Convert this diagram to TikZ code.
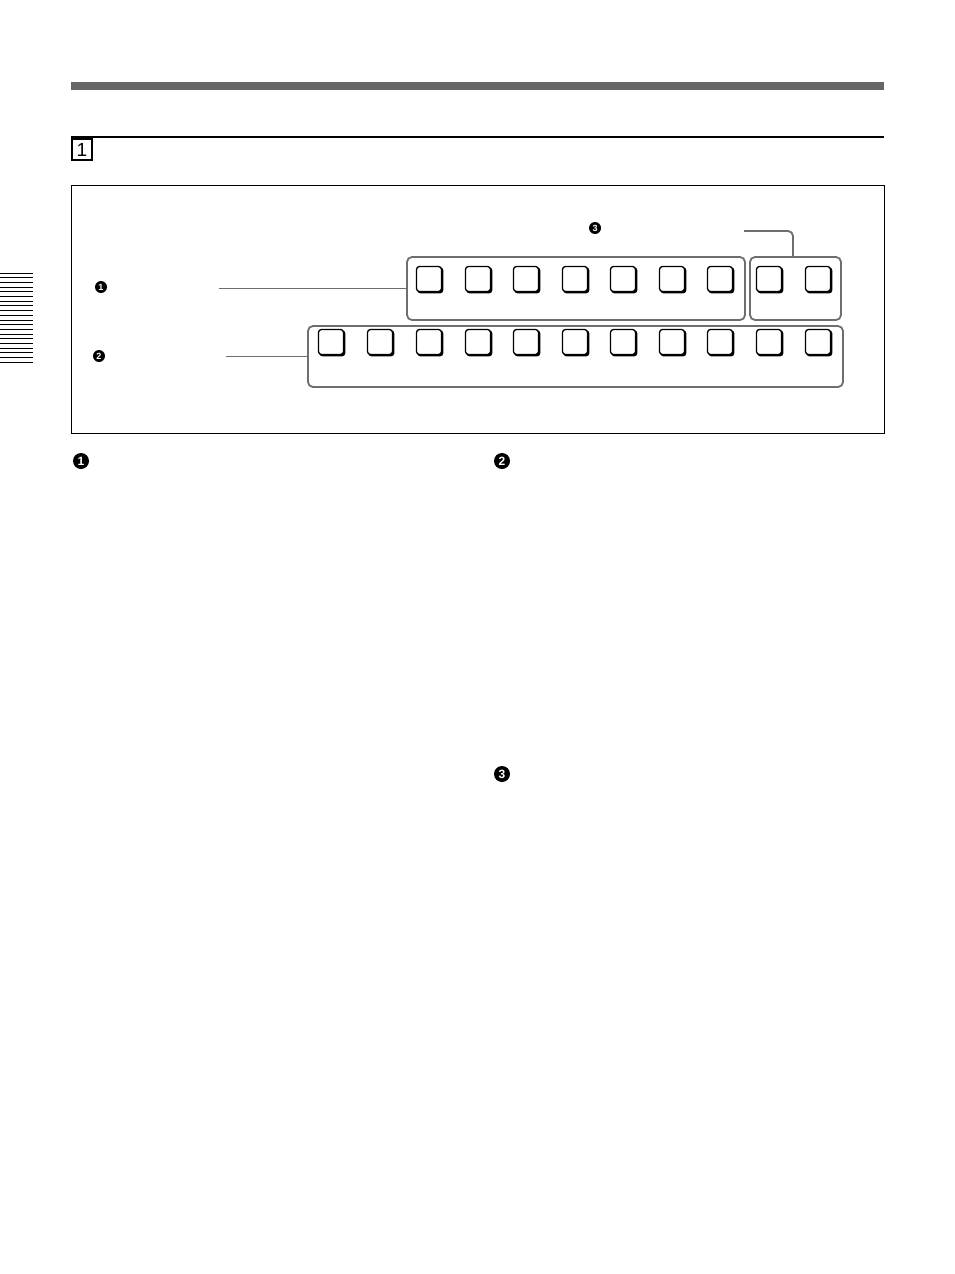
\documentclass[tikz,border=0pt]{standalone}
\usepackage{fontspec}
\setmainfont{Liberation Sans}
\usetikzlibrary{positioning}

\definecolor{bargray}{RGB}{102,102,102}
\definecolor{linegray}{RGB}{110,110,110}

\tikzset{
  key/.style={draw=black, line width=1.3pt, fill=white, rounded corners=3pt,
    minimum width=25pt, minimum height=25pt, inner sep=0pt},
  keyshade/.style={fill=black, rounded corners=3pt,
    minimum width=26pt, minimum height=26pt, inner sep=0pt},
  group/.style={draw=linegray, line width=1.8pt, rounded corners=5pt, inner sep=0pt},
  leader/.style={draw=linegray, line width=1.8pt},
  numsmall/.style={circle, fill=black, text=white, inner sep=0pt, minimum size=12pt,
    font=\fontsize{9}{9}\selectfont\bfseries},
  numbig/.style={circle, fill=black, text=white, inner sep=0pt, minimum size=16pt,
    font=\fontsize{12}{12}\selectfont\bfseries}
}

% one key: dark shade first, then the key face
\newcommand{\pushkey}[2]{%
  \node[keyshade] at ([shift={(1.3,1.3)}]#2) {};
  \node[key] (#1) at (#2) {};
}

\begin{document}
\begin{tikzpicture}[x=1pt, y=-1pt]
  \useasboundingbox[fill=white] (0,0) rectangle (954,1274);

  % Page header
  \fill[bargray] (71,82) rectangle (884,90);
  \draw[line width=1.2pt] (71,137) -- (884,137);
  \node[draw, line width=1.4pt, minimum width=20pt, minimum height=21pt, inner sep=0pt,
    font=\fontsize{19}{19}\selectfont] (sect) at (82,149.5) {1};

  % Side tab
  \foreach \i in {0,...,19}
    \draw[line width=1pt] (0,{273+4.7*\i}) -- (33,{273+4.7*\i});

  % Panel frame
  \draw[line width=1pt] (71,185) rectangle (884,433);

  % Groups of keys
  \node[group, minimum width=338pt, minimum height=63pt] (g1) at (576,288.5) {};
  \node[group, minimum width=91pt, minimum height=63pt] (g3) at (795.5,288.5) {};
  \node[group, minimum width=535pt, minimum height=61pt] (g2) at (575.5,356.5) {};

  % Upper row of keys
  \foreach \n/\x in {1/429,2/478,3/526,4/575,5/623,6/672,7/720,8/769,9/818}
    {\pushkey{u\n}{\x,279}}

  % Lower row of keys
  \foreach \n/\x in {1/331,2/380,3/429,4/478,5/526,6/575,7/623,8/672,9/720,10/769,11/818}
    {\pushkey{w\n}{\x,342}}

  % Callouts
  \node[numsmall] (c1) at (101,287) {1};
  \node[numsmall] (c2) at (99,356) {2};
  \node[numsmall] (c3) at (595,228) {3};
  \coordinate (l1) at (219,288.5);
  \coordinate (l2) at (226,356.5);
  \coordinate (l3) at (744,231);
  \draw[leader] (l1) -- (g1.west);
  \draw[leader] (l2) -- (g2.west);
  \draw[leader, rounded corners=5pt] (l3) -| ([xshift=-2.5pt]g3.north);

  % Paragraph markers
  \node[numbig] (p1) at (81,461) {1};
  \node[numbig] (p2) at (502,461) {2};
  \node[numbig] (p3) at (502,774) {3};
\end{tikzpicture}
\end{document}
